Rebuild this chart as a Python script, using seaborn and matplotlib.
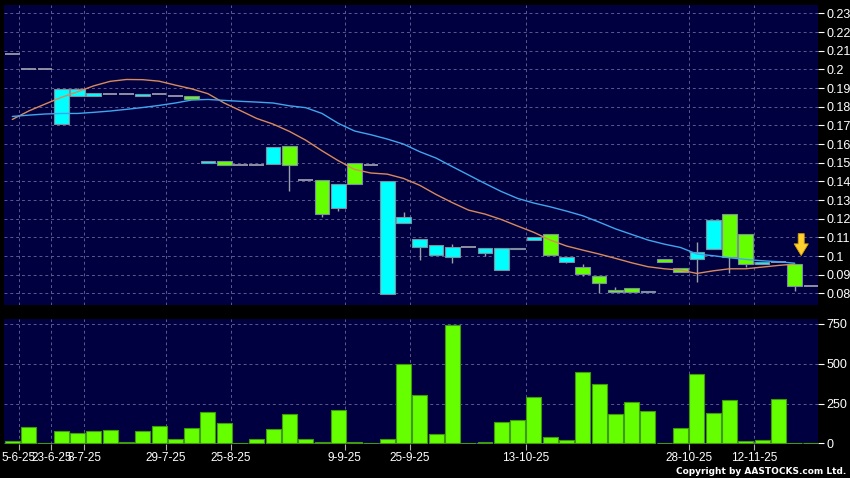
import numpy as np
import pandas as pd
import matplotlib
matplotlib.use('Agg')
import matplotlib.pyplot as plt
import seaborn as sns

# daily candles, one slot per trading day
opens = [0.208, 0.200, 0.200, 0.1707, 0.1857, 0.1855, 0.187, 0.187, 0.186, 0.187,
         0.1855, 0.1857, 0.150, 0.1512, 0.149, 0.149, 0.1491, 0.159, 0.1405, 0.1405,
         0.1255, 0.150, 0.1488, 0.0795, 0.1175, 0.105, 0.1004, 0.0993, 0.105, 0.1014,
         0.0925, 0.1045, 0.1084, 0.1121, 0.0971, 0.0943, 0.0896, 0.0818, 0.0827, 0.0814,
         0.0982, 0.0934, 0.0982, 0.1038, 0.1223, 0.1121, 0.0955, 0.0966, 0.0955, 0.0841]
closes = [0.208, 0.200, 0.200, 0.1893, 0.1893, 0.1871, 0.187, 0.187, 0.187, 0.187,
          0.1855, 0.1841, 0.1512, 0.1486, 0.149, 0.149, 0.1584, 0.149, 0.1405, 0.1223,
          0.1384, 0.1384, 0.1488, 0.1404, 0.121, 0.1093, 0.106, 0.105, 0.105, 0.1045,
          0.1045, 0.1036, 0.1104, 0.1004, 0.0993, 0.0902, 0.0854, 0.0805, 0.0805, 0.0805,
          0.0966, 0.0914, 0.1023, 0.1191, 0.0993, 0.0955, 0.0966, 0.0966, 0.0841, 0.0841]
highs = [0.208, 0.200, 0.200, 0.1893, 0.190, 0.1871, 0.187, 0.187, 0.187, 0.187,
         0.1855, 0.1857, 0.1512, 0.1512, 0.149, 0.149, 0.1584, 0.159, 0.1405, 0.1405,
         0.1384, 0.150, 0.1488, 0.1404, 0.1236, 0.1093, 0.106, 0.1063, 0.105, 0.1045,
         0.1045, 0.1045, 0.1104, 0.1121, 0.0993, 0.0955, 0.0896, 0.0836, 0.0827, 0.0814,
         0.0982, 0.0934, 0.1073, 0.1191, 0.1223, 0.1121, 0.0966, 0.0966, 0.0955, 0.0841]
lows = [0.208, 0.200, 0.200, 0.1707, 0.1857, 0.1855, 0.187, 0.187, 0.186, 0.187,
        0.1855, 0.1841, 0.150, 0.1486, 0.149, 0.149, 0.1491, 0.135, 0.1405, 0.121,
        0.1243, 0.1384, 0.1488, 0.0795, 0.1175, 0.0979, 0.1004, 0.0964, 0.105, 0.100,
        0.0925, 0.1036, 0.1084, 0.1004, 0.0964, 0.0893, 0.080, 0.0805, 0.0805, 0.0805,
        0.0966, 0.0914, 0.0862, 0.1038, 0.0911, 0.0943, 0.0955, 0.0966, 0.0814, 0.0841]
volume = [15, 100, 2, 78, 67, 76, 86, 8, 78, 107, 25, 99, 195, 130, 1, 29, 92, 183, 27, 8,
          210, 6, 0, 29, 500, 303, 59, 745, 4, 10, 134, 149, 292, 42, 21, 450, 372, 183, 258, 202,
          0, 95, 433, 189, 269, 13, 21, 279, 2, 0]

ma10 = [0.1732, 0.1777, 0.1814, 0.185, 0.188, 0.1912, 0.1936, 0.1946, 0.1945, 0.1937,
        0.1916, 0.1896, 0.187, 0.182, 0.1779, 0.1737, 0.1707, 0.1668, 0.1621, 0.1564,
        0.1511, 0.1464, 0.1445, 0.1439, 0.1416, 0.1379, 0.133, 0.1286, 0.1246, 0.1225,
        0.1196, 0.1161, 0.1127, 0.1086, 0.1054, 0.1032, 0.1011, 0.0988, 0.0964, 0.0943,
        0.0932, 0.0925, 0.0907, 0.0921, 0.0932, 0.0932, 0.0941, 0.095, 0.0957]
ma20 = [0.1748, 0.1755, 0.1761, 0.1764, 0.1764, 0.177, 0.1777, 0.1786, 0.1796, 0.1807,
        0.182, 0.1836, 0.1839, 0.1834, 0.1829, 0.1825, 0.182, 0.1805, 0.1795, 0.1764,
        0.1711, 0.167, 0.165, 0.1627, 0.16, 0.1559, 0.1525, 0.1479, 0.1434, 0.1389,
        0.1346, 0.1309, 0.1284, 0.1264, 0.1241, 0.1216, 0.1182, 0.1146, 0.1116, 0.1086,
        0.1064, 0.1046, 0.1011, 0.1002, 0.0991, 0.0982, 0.0975, 0.097, 0.0962]

date_labels = ['5-6-25', '23-6-25', '8-7-25', '29-7-25', '25-8-25', '9-9-25',
               '25-9-25', '13-10-25', '28-10-25', '12-11-25']
date_pos = [0.4, 2.4, 4.4, 9.4, 13.4, 20.4, 24.4, 31.5, 41.5, 45.5]

df = pd.DataFrame({'open': opens, 'close': closes, 'high': highs, 'low': lows, 'vol': volume})
df['slot'] = np.arange(len(df))

sns.set_theme(style='dark')
plt.rcParams['font.family'] = ['Liberation Sans', 'DejaVu Sans']

bg = '#000040'
grid_kw = dict(color='#5a5a90', linewidth=0.7, linestyle=(0, (3, 3)))

fig = plt.figure(figsize=(8.5, 4.78), dpi=100, facecolor='black')
ax = fig.add_axes([4 / 850, 173 / 478, 814 / 850, 300 / 478], facecolor=bg)
axv = fig.add_axes([4 / 850, 34 / 478, 814 / 850, 125 / 478], facecolor=bg)

# candles
w = 0.9
up = df[df.close > df.open]
dn = df[df.close < df.open]
flat = df[df.close == df.open]
ax.vlines(df.slot, df.low, df.high, color='#9aa0aa', linewidth=1, zorder=2)
ax.bar(up.slot, up.close - up.open, bottom=up.open, width=w, color='#00ffff',
       edgecolor='#7d8ea0', linewidth=0.8, zorder=3)
ax.bar(dn.slot, dn.open - dn.close, bottom=dn.close, width=w, color='#66ff00',
       edgecolor='#7d8ea0', linewidth=0.8, zorder=3)
ax.hlines(flat.close, flat.slot - w / 2, flat.slot + w / 2, color='#9a9aaa',
          linewidth=1.3, zorder=3)

# moving averages
ma_slots = np.arange(len(ma10))
sns.lineplot(x=ma_slots, y=ma10, ax=ax, color='#d98a5c', linewidth=1, zorder=4)
sns.lineplot(x=ma_slots, y=ma20, ax=ax, color='#3fa6ee', linewidth=1, zorder=4)

# latest-day marker
ax.annotate('', xy=(48.4, 0.1003), xytext=(48.4, 0.1120),
            arrowprops=dict(arrowstyle='simple,head_length=0.7,head_width=0.85,tail_width=0.36',
                            fc='#ffd030', ec='#d8a000', lw=0.6, shrinkA=0, shrinkB=0,
                            mutation_scale=12), zorder=6)

# volume
sns.barplot(x=df.slot, y=df.vol, ax=axv, native_scale=True, width=0.92,
            color='#66ff00', saturation=1, edgecolor='#3f9a10', linewidth=0.8, zorder=3)

xlim = (-0.51, 49.43)
for a in (ax, axv):
    a.set_xlim(*xlim)
    for s in a.spines.values():
        s.set_visible(False)
    a.yaxis.tick_right()
    a.tick_params(axis='y', colors='white', labelcolor='white', length=4, width=0.8,
                  labelsize=9, pad=2, right=True, left=False)
    a.set_xticks(date_pos)
    a.grid(True, axis='both', **grid_kw)
    a.set_xlabel('')
    a.set_ylabel('')

ax.set_ylim(0.0738, 0.2345)
ax.set_yticks(np.round(np.arange(0.08, 0.2351, 0.01), 2))
ax.set_yticklabels(['%g' % t for t in np.round(np.arange(0.08, 0.2351, 0.01), 2)])
ax.tick_params(axis='x', bottom=False, labelbottom=False)

axv.set_ylim(-4, 780)
axv.set_yticks([0, 250, 500, 750])
axv.set_xticklabels(date_labels)
axv.tick_params(axis='x', colors='#b0b0b0', labelcolor='white', length=4, width=0.8,
                labelsize=8.5, pad=2, bottom=True, direction='out')

fig.text(0.995, 0.004, 'Copyright by AASTOCKS.com Ltd.', ha='right', va='bottom',
         color='white', fontsize=6.5, fontweight='bold', family=['DejaVu Sans'])

fig.savefig('out.png', dpi=100, facecolor='black')
